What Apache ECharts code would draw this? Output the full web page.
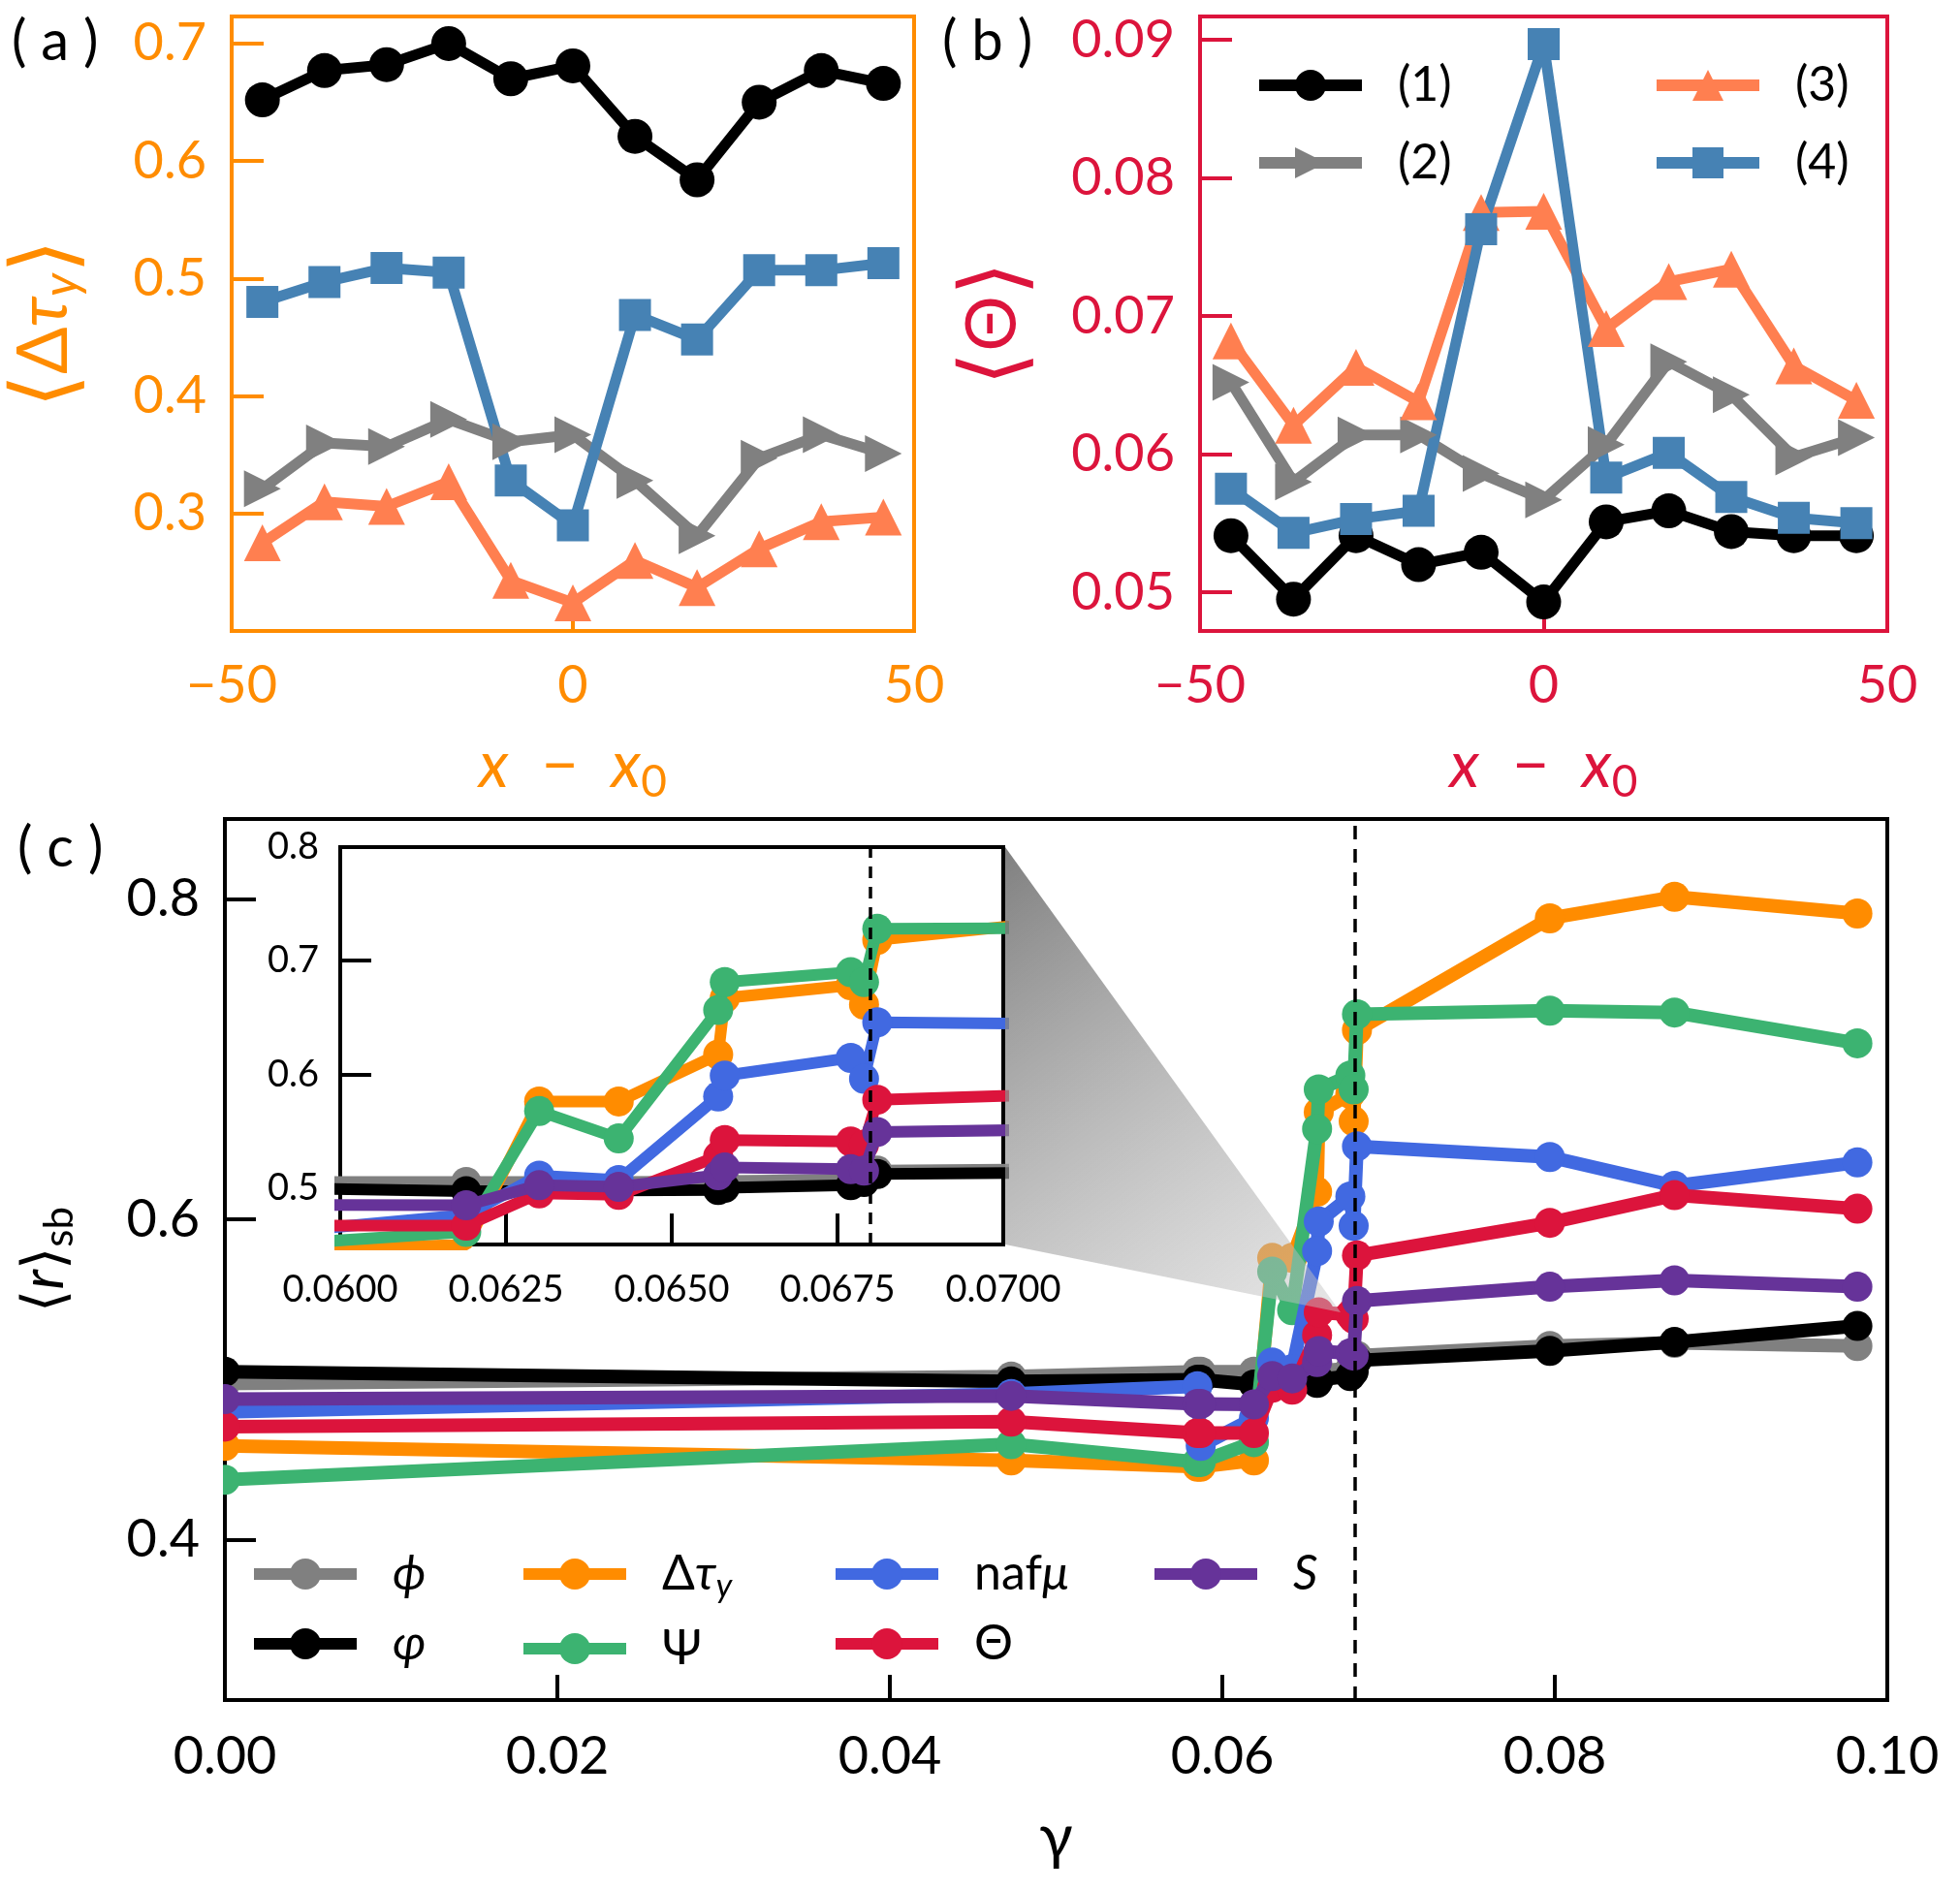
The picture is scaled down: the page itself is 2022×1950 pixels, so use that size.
<!DOCTYPE html>
<html>
<head>
<meta charset="utf-8">
<script src="https://cdn.jsdelivr.net/npm/echarts@6/dist/echarts.min.js"></script>
<style>html,body{margin:0;padding:0;background:#fff}#chart{width:2022px;height:1950px}</style>
</head>
<body>
<div id="chart"></div>
<script>
// panels (a) and (b): x - x0 positions
const xPos = [-45.5, -36.4, -27.3, -18.2, -9.1, 0, 9.1, 18.2, 27.3, 36.4, 45.5];
// (a) <Δτy>
const a1 = [0.652, 0.677, 0.682, 0.700, 0.670, 0.681, 0.621, 0.584, 0.650, 0.677, 0.666];
const a2 = [0.321, 0.360, 0.357, 0.380, 0.361, 0.367, 0.328, 0.281, 0.347, 0.367, 0.351];
const a3 = [0.275, 0.310, 0.306, 0.327, 0.243, 0.224, 0.260, 0.237, 0.270, 0.293, 0.297];
const a4 = [0.480, 0.497, 0.509, 0.505, 0.328, 0.290, 0.469, 0.448, 0.507, 0.507, 0.513];
// (b) <Θ>
const b1 = [0.0541, 0.0495, 0.0541, 0.0520, 0.0529, 0.0493, 0.0551, 0.0559, 0.0544, 0.0541, 0.0541];
const b2 = [0.0652, 0.0580, 0.0614, 0.0614, 0.0586, 0.0567, 0.0607, 0.0667, 0.0643, 0.0598, 0.0612];
const b3 = [0.0682, 0.0621, 0.0663, 0.0638, 0.0775, 0.0776, 0.0691, 0.0725, 0.0734, 0.0664, 0.0639];
const b4 = [0.0575, 0.0543, 0.0553, 0.0559, 0.0763, 0.0897, 0.0583, 0.0601, 0.0569, 0.0554, 0.0550];

// (c) <r>sb against γ
const gam    = [0, 0.0473, 0.0585, 0.0587, 0.0619, 0.0630, 0.0642, 0.0657, 0.0658, 0.0677, 0.0679, 0.0681, 0.0797, 0.0872, 0.0982];
const rPhi   = [0.4975, 0.5019, 0.5050, 0.5050, 0.5050, 0.5050, 0.5050, 0.5055, 0.5060, 0.5070, 0.5090, 0.5150, 0.5210, 0.5230, 0.5210];
const rVphi  = [0.5050, 0.4989, 0.5000, 0.5000, 0.4970, 0.4970, 0.4975, 0.4980, 0.5000, 0.5022, 0.5050, 0.5120, 0.5180, 0.5235, 0.5335];
const rDtau  = [0.4587, 0.4496, 0.4456, 0.4456, 0.4496, 0.5760, 0.5760, 0.6173, 0.6670, 0.6784, 0.6613, 0.7182, 0.7880, 0.8014, 0.7910];
const rPsi   = [0.4375, 0.4597, 0.4486, 0.4486, 0.4610, 0.5675, 0.5434, 0.6565, 0.6812, 0.6898, 0.6812, 0.7281, 0.7304, 0.7292, 0.7100];
const rNaf   = [0.4798, 0.4910, 0.4959, 0.4587, 0.4760, 0.5107, 0.5067, 0.5803, 0.5988, 0.6144, 0.5960, 0.6457, 0.6390, 0.6210, 0.6356];
const rTheta = [0.4707, 0.4738, 0.4667, 0.4667, 0.4667, 0.4950, 0.4937, 0.5278, 0.5420, 0.5406, 0.5380, 0.5775, 0.5979, 0.6152, 0.6067];
const rS     = [0.4879, 0.4899, 0.4849, 0.4849, 0.4845, 0.5022, 0.5008, 0.5110, 0.5178, 0.5164, 0.5150, 0.5491, 0.5580, 0.5620, 0.5580];
const gammaC = 0.068;

// tick values
const ticksXab = [-50, 0, 50];
const ticksYa = [0.3, 0.4, 0.5, 0.6, 0.7];
const ticksYb = [0.05, 0.06, 0.07, 0.08, 0.09];
const ticksXc = [0, 0.02, 0.04, 0.06, 0.08, 0.1];
const ticksYc = [0.4, 0.6, 0.8];
const ticksXin = [0.06, 0.0625, 0.065, 0.0675, 0.07];
const ticksYin = [0.5, 0.6, 0.7, 0.8];

const FONT = 'Lato, "DejaVu Sans", sans-serif';
const ORANGE = '#FF8C00', CRIMSON = '#DC143C';

function pairs(xs, ys) { return xs.map((x, i) => [x, ys[i]]); }

function rich(size, color) {
  return {
    r: {fontSize: size, color: color, fontFamily: FONT},
    i: {fontSize: size, color: color, fontFamily: FONT, fontStyle: 'italic'},
    br: {fontSize: Math.round(size * 1.25), color: color, fontFamily: FONT, fontWeight: 300},
    sub: {fontSize: Math.round(size * 0.7), color: color, fontFamily: FONT, padding: [Math.round(size * 0.5), 0, 0, 0]},
    isub: {fontSize: Math.round(size * 0.7), color: color, fontFamily: FONT, fontStyle: 'italic', padding: [Math.round(size * 0.5), 0, 0, 0]}
  };
}

function axis(o) {
  return {
    type: 'value', gridIndex: o.grid, min: o.min, max: o.max, position: o.pos,
    axisLine: {show: true, onZero: false, lineStyle: {color: o.color, width: 4}}, splitLine: {show: false},
    axisTick: {show: true, inside: true, length: o.tickLen, customValues: o.ticks,
      lineStyle: {color: o.color, width: 4}},
    axisLabel: {customValues: o.ticks, formatter: o.fmt, color: o.color, fontSize: o.fs,
      fontFamily: FONT, margin: o.margin},
    name: o.name || '', nameLocation: 'middle', nameGap: o.nameGap || 0, nameRotate: o.nameRotate,
    nameTextStyle: {color: o.color, fontSize: o.nfs || 56, fontFamily: FONT, rich: rich(o.nfs || 56, o.color)}
  };
}

const minus = v => (v < 0 ? '\u2212' : '') + Math.abs(v);

// series styles for panels (a)/(b)
const abStyle = [
  {name: '(1)', color: '#000000', symbol: 'circle', rot: 0, size: 36, a: a1, b: b1},
  {name: '(2)', color: '#808080', symbol: 'triangle', rot: -90, size: 38, a: a2, b: b2},
  {name: '(3)', color: '#FF7F50', symbol: 'triangle', rot: 0, size: 38, a: a3, b: b3},
  {name: '(4)', color: '#4682B4', symbol: 'rect', rot: 0, size: 33, a: a4, b: b4}
];

const cStyle = [
  {name: 'phi', color: '#808080', y: rPhi},
  {name: 'varphi', color: '#000000', y: rVphi},
  {name: 'dtau', color: ORANGE, y: rDtau},
  {name: 'psi', color: '#3CB371', y: rPsi},
  {name: 'naf', color: '#4169E1', y: rNaf},
  {name: 'theta', color: CRIMSON, y: rTheta},
  {name: 'S', color: '#663399', y: rS}
];
const cLabels = {
  phi: '{i|ϕ}', varphi: '{i|φ}', dtau: '{r|Δ}{i|τ}{isub|y}', psi: '{r|Ψ}',
  naf: '{r|naf}{i|μ}', theta: '{r|Θ}', S: '{i|S}'
};

const dashed = (dash) => ({silent: true, symbol: 'none', precision: 5, label: {show: false},
  lineStyle: {color: '#000', width: 3.5, type: dash}, data: [{xAxis: gammaC}]});

const series = [];
abStyle.forEach(s => {
  [['a', 0], ['b', 1]].forEach(([key, idx]) => {
    series.push({
      type: 'line', name: s.name, xAxisIndex: idx, yAxisIndex: idx,
      data: pairs(xPos, s[key]), symbol: s.symbol, symbolSize: s.size, symbolRotate: s.rot,
      lineStyle: {color: s.color, width: 11}, itemStyle: {color: s.color}, z: 3
    });
  });
});
cStyle.forEach((s, k) => {
  series.push({
    type: 'line', name: s.name, xAxisIndex: 2, yAxisIndex: 2, data: pairs(gam, s.y),
    symbol: 'circle', symbolSize: 31, lineStyle: {color: s.color, width: 14},
    itemStyle: {color: s.color}, z: 3 + k * 0.01,
    markLine: k === 0 ? dashed([14, 10]) : undefined
  });
  series.push({
    type: 'line', name: s.name, xAxisIndex: 3, yAxisIndex: 3, data: pairs(gam, s.y),
    symbol: 'circle', symbolSize: 31, lineStyle: {color: s.color, width: 12},
    itemStyle: {color: s.color}, z: 3 + k * 0.01,
    markLine: k === 0 ? dashed([12, 9]) : undefined
  });
});

function legendBox(names, left, top, gap, fmt) {
  return {
    data: names, left: left, top: top, orient: 'vertical', itemWidth: 106, itemHeight: 40, itemGap: gap,
    selectedMode: false, lineStyle: {width: 12},
    formatter: fmt,
    textStyle: {fontSize: 50, color: '#000', fontFamily: FONT, padding: [0, 0, 0, 32], rich: rich(50, '#000')}
  };
}

const option = {
  animation: false,
  textStyle: {fontFamily: FONT},
  grid: [
    {left: 233, top: 17, width: 710, height: 634, show: true, borderColor: ORANGE, borderWidth: 4},
    {left: 1238, top: 17, width: 709, height: 634, show: true, borderColor: CRIMSON, borderWidth: 4},
    {left: 232, top: 845, width: 1715, height: 909, show: true, borderColor: '#000', borderWidth: 4},
    {left: 351, top: 874, width: 684, height: 410, show: true, borderColor: '#000', borderWidth: 4, backgroundColor: '#fff'}
  ],
  xAxis: [
    axis({grid: 0, pos: 'bottom', min: -50, max: 50, ticks: ticksXab, fmt: minus, color: ORANGE, fs: 54, margin: 30, tickLen: 18,
      name: '{i|x}  \u2212  {i|x}{sub|0}', nameGap: 100, nfs: 66}),
    axis({grid: 1, pos: 'bottom', min: -50, max: 50, ticks: ticksXab, fmt: minus, color: CRIMSON, fs: 54, margin: 30, tickLen: 18,
      name: '{i|x}  \u2212  {i|x}{sub|0}', nameGap: 100, nfs: 66}),
    axis({grid: 2, pos: 'bottom', min: 0, max: 0.1, ticks: ticksXc, fmt: v => v.toFixed(2), color: '#000', fs: 54, margin: 32, tickLen: 26,
      name: 'γ', nameGap: 110, nfs: 64}),
    axis({grid: 3, pos: 'bottom', min: 0.06, max: 0.07, ticks: ticksXin, fmt: v => v.toFixed(4), color: '#000', fs: 38, margin: 28, tickLen: 32})
  ],
  yAxis: [
    axis({grid: 0, pos: 'left', min: 0.2, max: 0.723, ticks: ticksYa, fmt: v => v.toFixed(1), color: ORANGE, fs: 54, margin: 26, tickLen: 33,
      name: '{br|⟨}{r|Δ}{i|τ}{isub|y}{br|⟩}', nameGap: 148, nameRotate: 90, nfs: 72}),
    axis({grid: 1, pos: 'left', min: 0.0472, max: 0.0917, ticks: ticksYb, fmt: v => v.toFixed(2), color: CRIMSON, fs: 54, margin: 26, tickLen: 33,
      name: '{br|⟨}{r|Θ}{br|⟩}', nameGap: 168, nameRotate: 90, nfs: 72}),
    axis({grid: 2, pos: 'left', min: 0.3, max: 0.85, ticks: ticksYc, fmt: v => v.toFixed(1), color: '#000', fs: 54, margin: 26, tickLen: 32,
      name: '⟨{i|r}⟩{sub|sb}', nameGap: 150, nameRotate: 90, nfs: 60}),
    axis({grid: 3, pos: 'left', min: 0.45, max: 0.8, ticks: ticksYin, fmt: v => v.toFixed(1), color: '#000', fs: 38, margin: 22, tickLen: 32})
  ],
  legend: [
    legendBox(['(1)', '(2)'], 1288, 58, 30),
    legendBox(['(3)', '(4)'], 1698, 58, 30),
    legendBox(['phi', 'varphi'], 251, 1594, 22, n => cLabels[n]),
    legendBox(['dtau', 'psi'], 529, 1594, 22, n => cLabels[n]),
    legendBox(['naf', 'theta'], 851, 1594, 22, n => cLabels[n]),
    legendBox(['S'], 1180, 1594, 22, n => cLabels[n])
  ],
  graphic: [
    {type: 'polygon', z: 20, silent: true,
      shape: {points: [[1037, 874], [1037, 1284], [1383, 1354]]},
      style: {fill: new echarts.graphic.LinearGradient(0, 0, 1, 1, [
        {offset: 0, color: 'rgba(110,110,110,0.88)'},
        {offset: 1, color: 'rgba(200,200,200,0.45)'}])}},
    {type: 'rect', z: 20, silent: true, shape: {x: 212, y: 1385, width: 18, height: 160}, style: {fill: '#fff'}},
    {type: 'text', left: 12, top: 14, style: {text: '( a )', fontSize: 58, fontFamily: FONT, fill: '#000'}},
    {type: 'text', left: 972, top: 14, style: {text: '( b )', fontSize: 58, fontFamily: FONT, fill: '#000'}},
    {type: 'text', left: 18, top: 846, style: {text: '( c )', fontSize: 58, fontFamily: FONT, fill: '#000'}}
  ],
  series: series
};

const chart = echarts.init(document.getElementById('chart'));
chart.setOption(option);
</script>
</body>
</html>
